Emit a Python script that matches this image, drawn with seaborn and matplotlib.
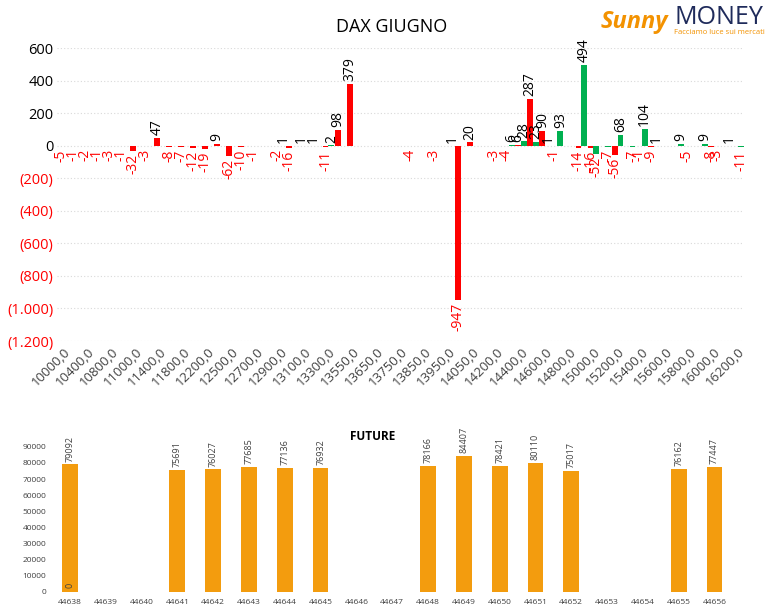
import numpy as np
import pandas as pd
import matplotlib
matplotlib.use("Agg")
import matplotlib.pyplot as plt
import seaborn as sns

# ---------------- data: top chart (DAX GIUGNO) ----------------
strikes = [10000, 10200, 10400, 10600, 10800, 10900, 11000, 11200, 11400, 11600,
           11800, 12000, 12200, 12400, 12500, 12600, 12700, 12800, 12900, 13000,
           13100, 13200, 13300, 13500, 13550, 13600, 13650, 13700, 13750, 13800,
           13850, 13900, 13950, 14000, 14050, 14100, 14200, 14300, 14400, 14500,
           14600, 14700, 14800, 14900, 15000, 15100, 15200, 15300, 15400, 15500,
           15600, 15700, 15800, 15900, 16000, 16100, 16200]

red_values = [-5, -1, -2, -1, -3, -1, -32, -3, 47, -8,
              -7, -12, -19, 9, -62, -10, -1, 0, -2, -16,
              1, 1, -11, 98, 379, 0, 0, 0, 0, -4,
              0, -3, 0, -947, 20, 0, -3, -4, 6, 287,
              90, -1, 0, -14, -16, 0, -56, 0, -1, -9,
              0, 0, -5, 0, -8, 0, 0]

green_values = [0, 0, 0, 0, 0, 0, 0, 0, 0, 0,
                0, 0, 0, 0, 0, 0, 0, 0, 1, 0,
                0, 0, 2, 0, 0, 0, 0, 0, 0, 0,
                0, 0, 1, 0, 0, 0, 0, 6, 28, 23,
                1, 93, 0, 494, -52, -7, 68, -7, 104, 1,
                0, 9, 0, 9, -3, 1, -11]

y_ticks = [600, 400, 200, 0, -200, -400, -600, -800, -1000, -1200]

# ---------------- data: bottom chart (FUTURE) ----------------
future_days = list(range(44638, 44657))
future_values = [79092, np.nan, np.nan, 75691, 76027, 77685, 77136, 76932, np.nan, np.nan,
                 78166, 84407, 78421, 80110, 75017, np.nan, np.nan, 76162, 77447]
future_second = [0] + [np.nan] * 18
future_ticks = [0, 10000, 20000, 30000, 40000, 50000, 60000, 70000, 80000, 90000]

RED = "#FF0000"
GREEN = "#00B050"
ORANGE = "#F39C0E"

sns.set_theme(style="white")
plt.rcParams["font.family"] = ["Open Sans", "DejaVu Sans"]

fig = plt.figure(figsize=(7.75, 6.07), dpi=100)

# ---------------- top chart ----------------
strike_labels = [f"{s},0" for s in strikes]
df = pd.DataFrame({
    "strike": strike_labels * 2,
    "serie": ["rossa"] * len(strikes) + ["verde"] * len(strikes),
    "valore": red_values + green_values,
})

ax = fig.add_axes([57.5 / 775, 1 - 341 / 607, 686.5 / 775, 293 / 607])
sns.barplot(data=df, x="strike", y="valore", hue="serie", order=strike_labels,
            hue_order=["rossa", "verde"], palette={"rossa": RED, "verde": GREEN},
            width=0.98, saturation=1, errorbar=None, legend=False, linewidth=0, ax=ax)

for cont in ax.containers:
    vals = list(cont.datavalues)
    labels = ["" if v == 0 else f"{v:.0f}" for v in vals]
    texts = ax.bar_label(cont, labels=labels, rotation=90, padding=2, fontsize=10)
    for t, v in zip(texts, vals):
        t.set_color(RED if v < 0 else "black")

ax.set_ylim(-1200, 600)
ax.set_xlim(-0.5, len(strikes) - 0.5)
ax.set_yticks(y_ticks)

def yfmt(v):
    if v < 0:
        return "(" + f"{-v:,.0f}".replace(",", ".") + ")"
    return f"{v:.0f}"

ax.set_yticklabels([yfmt(v) for v in y_ticks], fontsize=10.5)
for t, v in zip(ax.get_yticklabels(), y_ticks):
    t.set_color(RED if v < 0 else "black")

xt = list(range(0, len(strikes), 2))
ax.set_xticks(xt)
ax.set_xticklabels([strike_labels[i] for i in xt], rotation=45, ha="right",
                   rotation_mode="anchor", fontsize=9.5, color="#404040")
ax.tick_params(axis="both", length=0, pad=3)
ax.set_xlabel("")
ax.set_ylabel("")
ax.grid(axis="y", color="#D9D9D9", linestyle=(0, (1, 2)), linewidth=0.8)
ax.set_axisbelow(True)
for s in ax.spines.values():
    s.set_visible(False)

fig.text(392 / 775, 1 - 27 / 607, "DAX GIUGNO", ha="center", va="center", fontsize=13, color="black")

# ---------------- bottom chart ----------------
day_labels = [str(d) for d in future_days]
dff = pd.DataFrame({"giorno": day_labels, "valore": future_values}).dropna()
dfz = pd.DataFrame({"giorno": day_labels, "valore": future_second}).dropna()

ax2 = fig.add_axes([52 / 775, 1 - 591.7 / 607, 680.4 / 775, 144.8 / 607])
sns.barplot(data=dff, x="giorno", y="valore", order=day_labels, color=ORANGE,
            width=0.44, saturation=1, errorbar=None, linewidth=0, ax=ax2)
c_main = ax2.containers[0]
sns.barplot(data=dfz, x="giorno", y="valore", order=day_labels, color="#A5A5A5",
            width=0.44, saturation=1, errorbar=None, linewidth=0, ax=ax2)
c_zero = ax2.containers[1]

ax2.bar_label(c_main, labels=[f"{v:.0f}" for v in c_main.datavalues], rotation=90,
              padding=2, fontsize=6.5, color="#404040")
ax2.bar_label(c_zero, labels=[f"{v:.0f}" for v in c_zero.datavalues], rotation=90,
              padding=3, fontsize=6.5, color="#404040")

ax2.set_ylim(0, 90000)
ax2.set_xlim(-0.5, len(future_days) - 0.5)
ax2.set_yticks(future_ticks)
ax2.set_yticklabels([str(v) for v in future_ticks], fontsize=6, color="#404040")
ax2.set_xticks(range(len(future_days)))
ax2.set_xticklabels(day_labels, fontsize=6, color="#404040")
ax2.tick_params(axis="x", length=0, pad=5)
ax2.tick_params(axis="y", length=0, pad=4)
ax2.set_xlabel("")
ax2.set_ylabel("")
for s in ax2.spines.values():
    s.set_visible(False)

fig.text(373 / 775, 1 - 436 / 607, "FUTURE", ha="center", va="center", fontsize=8.5,
         fontweight="bold", color="black")

# ---------------- logo ----------------
fig.text(634 / 775, 1 - 22 / 607, "Sunny", ha="center", va="center", fontsize=17,
         fontstyle="italic", fontweight="bold", color="#F39200")
fig.text(719 / 775, 1 - 18 / 607, "MONEY", ha="center", va="center", fontsize=18,
         color="#1F2B5B")
fig.text(719 / 775, 1 - 33 / 607, "Facciamo luce sui mercati", ha="center", va="center",
         fontsize=5.5, color="#F39200")

fig.savefig("out.png", dpi=100)
